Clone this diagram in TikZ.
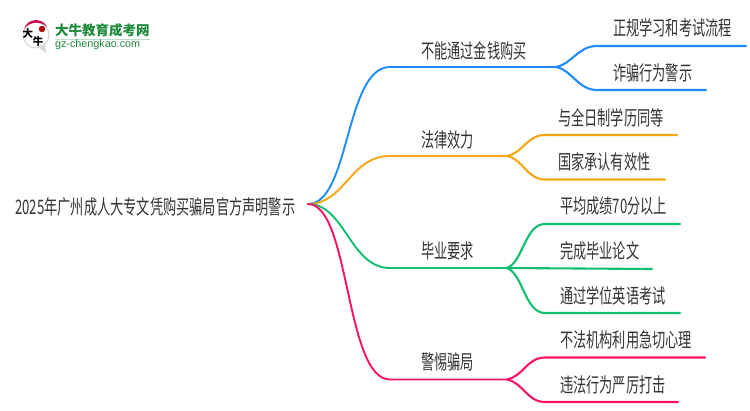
\documentclass[tikz,border=0pt]{standalone}
\usepackage{fontspec}
\setmainfont{Noto Sans CJK SC}
\newfontfamily\lat{Liberation Sans}
\definecolor{cblue}{HTML}{1E8CFA}
\definecolor{corange}{HTML}{F5A612}
\definecolor{cgreen}{HTML}{10BE6E}
\definecolor{cpink}{HTML}{FA1269}
\definecolor{cdark}{HTML}{333333}
\definecolor{lgreen}{HTML}{1E8A3C}
\tikzset{
 x=1pt,y=-1pt,
 lab/.style={font=\fontsize{20}{20}\selectfont,text=cdark,inner sep=0pt,anchor=west,xscale=.66,transform shape},
 wire/.style={line width=1.9pt,line cap=round},
 fan/.style={line width=2.1pt,line cap=round},
 pt/.style={inner sep=0pt,minimum size=0pt,outer sep=0pt}
}
\begin{document}
\begin{tikzpicture}
\useasboundingbox (0,0) rectangle (750,410);
\fill[white] (0,0) rectangle (750,410);
% logo
\draw[gray!40,fill=white,line width=.8pt] (36,35) circle (13);
\fill[gray!30] (38,47) -- (46,53) -- (45,43) -- cycle;
\fill[cpink!85!black] (24,29) .. controls (27,18) and (43,17) .. (47,27) .. controls (41,21) and (30,21) .. (24,29) -- cycle;
\fill[red!70!black] (42,29) circle (3.2);
\node[pt,font=\bfseries\fontsize{10.5}{10.5}\selectfont,text=black] (logoa) at (28,33) {大};
\node[pt,font=\bfseries\fontsize{10.5}{10.5}\selectfont,text=black] (logob) at (38,42) {牛};
\node[pt,font=\bfseries\fontsize{13.5}{13.5}\selectfont,text=lgreen,anchor=west] (logot) at (55,30) {大牛教育成考网};
\fill[lgreen!30] (55,38.5) rectangle (150,39.3);
\node[pt,font=\lat\fontsize{10.8}{11}\selectfont,text=lgreen,anchor=west] (logou) at (55,45) {gz-chengkao.com};
% anchors
\coordinate (r) at (308,204);
\coordinate (b1s) at (390,67); \coordinate (b1e) at (556,67);
\coordinate (b2s) at (390,156); \coordinate (b2e) at (507,156);
\coordinate (b3s) at (390,268); \coordinate (b3e) at (507,268);
\coordinate (b4s) at (390,379.5); \coordinate (b4e) at (507,379.5);
% root and labels
\node[lab] (root) at (15,207) {2025年广州成人大专文凭购买骗局官方声明警示};
\node[lab] (n1) at (421,50.5) {不能通过金钱购买};
\node[lab] (n2) at (421,139.5) {法律效力};
\node[lab] (n3) at (421,251) {毕业要求};
\node[lab] (n4) at (421,362) {警惕骗局};
\node[lab] (a1) at (613,28) {正规学习和考试流程};
\node[lab] (a2) at (613,73) {诈骗行为警示};
\node[lab] (c1) at (558,117.5) {与全日制学历同等};
\node[lab] (c2) at (558,162) {国家承认有效性};
\node[lab] (d1) at (560,206) {平均成绩70分以上};
\node[lab] (d2) at (560,251) {完成毕业论文};
\node[lab] (d3) at (560,296) {通过学位英语考试};
\node[lab] (e1) at (560,340) {不法机构利用急切心理};
\node[lab] (e2) at (560,385) {违法行为严厉打击};
% branches
\draw[wire,cblue] (r) .. controls (350,204) and (345,67) .. (b1s) -- (b1e);
\draw[wire,corange] (r) .. controls (345,204) and (350,156) .. (b2s) -- (b2e);
\draw[wire,cgreen] (r) .. controls (345,204) and (350,268) .. (b3s) -- (b3e);
\draw[wire,cpink] (r) .. controls (350,204) and (345,379.5) .. (b4s) -- (b4e);
% children
\coordinate (a1e) at (746,46); \coordinate (a2e) at (706,90);
\coordinate (c1e) at (677,135); \coordinate (c2e) at (665,179.5);
\coordinate (d1e) at (680,224); \coordinate (d2e) at (652,269); \coordinate (d3e) at (680,313);
\coordinate (e1e) at (705,357.5); \coordinate (e2e) at (678,402);
\draw[fan,cblue] (b1e) .. controls (572,64) and (578,46) .. (597,46) -- (a1e);
\draw[fan,cblue] (b1e) .. controls (572,70) and (578,90) .. (597,90) -- (a2e);
\draw[fan,corange] (b2e) .. controls (523,153) and (527,135) .. (545,135) -- (c1e);
\draw[fan,corange] (b2e) .. controls (523,159) and (527,179.5) .. (545,179.5) -- (c2e);
\draw[fan,cgreen] (b3e) .. controls (523,262) and (525,224) .. (545,224) -- (d1e);
\draw[fan,cgreen] (b3e) -- (d2e);
\draw[fan,cgreen] (b3e) .. controls (523,274) and (525,313) .. (545,313) -- (d3e);
\draw[fan,cpink] (b4e) .. controls (523,376.5) and (527,357.5) .. (545,357.5) -- (e1e);
\draw[fan,cpink] (b4e) .. controls (523,382.5) and (527,402) .. (545,402) -- (e2e);
\end{tikzpicture}
\end{document}
